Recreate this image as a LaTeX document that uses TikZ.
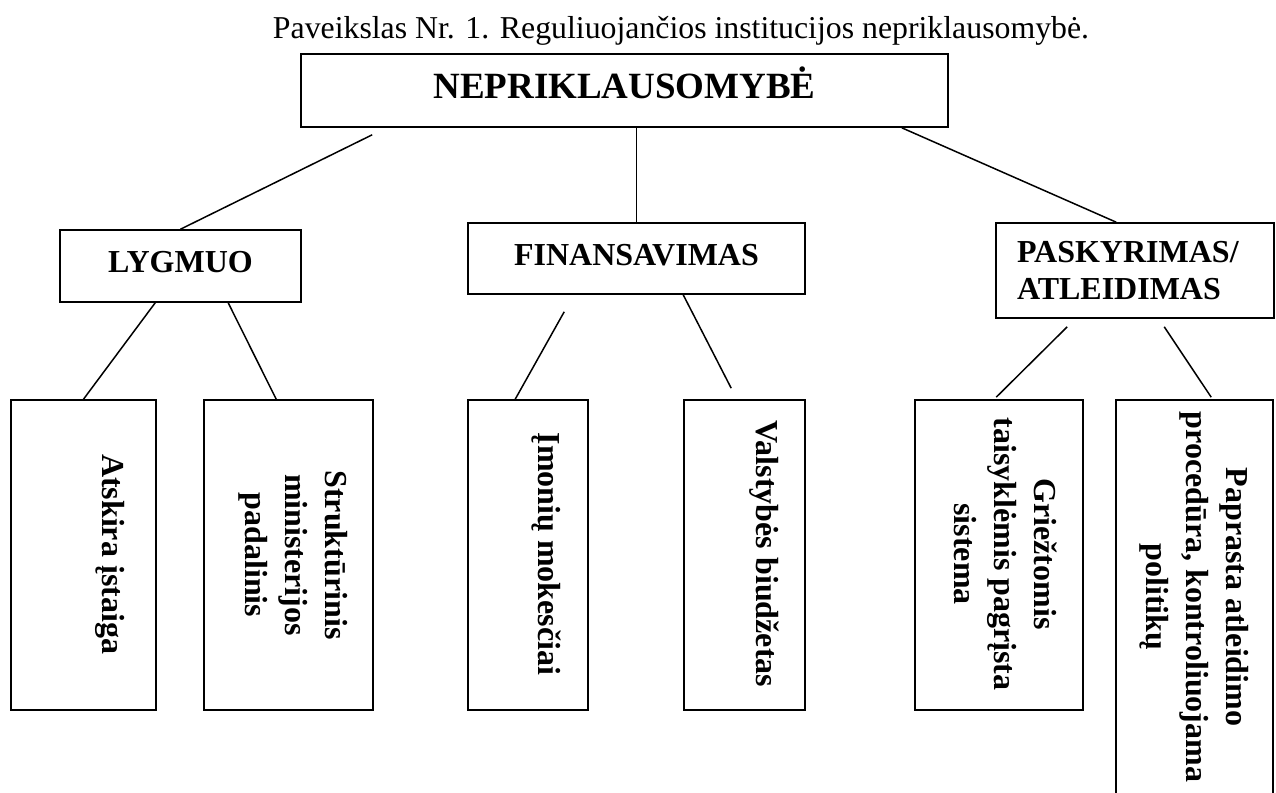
\documentclass[tikz,border=0pt]{standalone}
\usepackage{fontspec}
\setmainfont{Liberation Serif}
\usepackage{tikz}
\usetikzlibrary{calc}
\tikzset{
  bx/.style={draw, line width=1.6pt, inner sep=0pt, font=\fontsize{32}{37}\selectfont\bfseries},
  one/.style={text height=21pt, text depth=8pt},
  leaf/.style={draw, line width=1.6pt, inner sep=0pt, minimum height=310pt},
  vtxt/.style={rotate=-90, align=center, inner sep=0pt, font=\fontsize{32}{40}\selectfont\bfseries},
  lnk/.style={line width=1.5pt},
}

\begin{document}
\begin{tikzpicture}[x=1pt, y=-1pt]
  \useasboundingbox (0,0) rectangle (1276,792);
  \clip (0,0) rectangle (1276,792);
  \node[anchor=base, font=\fontsize{31.8}{36}\selectfont] (ttl) at (681,38) {Paveikslas Nr. 1. Reguliuojančios institucijos nepriklausomybė.};
  % virsus
  \node[bx, minimum width=647pt, minimum height=73pt, text height=24pt, text depth=9pt, font=\fontsize{37}{44}\selectfont\bfseries] (nep) at (624.5,90.5) {NEPRIKLAUSOMYBĖ};
  % antras lygis
  \node[bx, one, minimum width=241pt, minimum height=72pt] (lyg) at (180.5,266) {LYGMUO};
  \node[bx, one, minimum width=337pt, minimum height=71pt] (fin) at (636.5,258.5) {FINANSAVIMAS};
  \node[bx, minimum width=278pt, minimum height=95pt, inner xsep=21pt, text width=236pt, align=left] (pask) at (1135,270.5) {PASKYRIMAS/\\ATLEIDIMAS};
  % apacia
  \node[leaf, minimum width=145pt] (b1) at (83.5,555) {};
  \node[leaf, minimum width=169pt] (b2) at (288.5,555) {};
  \node[leaf, minimum width=120pt] (b3) at (528,555) {};
  \node[leaf, minimum width=121pt] (b4) at (744.5,555) {};
  \node[leaf, minimum width=168pt] (b5) at (999,555) {};
  \node[leaf, minimum width=157pt, minimum height=395pt] (b6) at (1194.5,597.5) {};
  \node[vtxt] (t1) at (110,554) {Atskira įstaiga};
  \node[vtxt] (t2) at (293,555) {Struktūrinis\\ministerijos\\padalinis};
  \node[vtxt] (t3) at (546,554) {Įmonių mokesčiai};
  \node[vtxt] (t4) at (764,554) {Valstybės biudžetas};
  \node[vtxt] (t5) at (1006,554) {Griežtomis\\taisyklėmis pagrįsta\\sistema};
  \node[vtxt] (t6) at (1194,597) {Paprasta atleidimo\\procedūra, kontroliuojama\\politikų};
  % linijos
  \draw[lnk] ($(nep.south west)+(72,7)$) -- (lyg.north);
  \draw[lnk] (fin.north |- nep.south) -- (fin.north);
  \draw[lnk] ($(nep.south east)+(-47,0)$) -- ($(pask.north west)+(121,0)$);
  \draw[lnk] ($(lyg.south west)+(96,0)$) -- (b1.north);
  \draw[lnk] ($(lyg.south west)+(169,0)$) -- ($(b2.north west)+(73,0)$);
  \draw[lnk] ($(fin.south west)+(97,17)$) -- ($(b3.north west)+(48,0)$);
  \draw[lnk] ($(fin.south west)+(216,0)$) -- ($(b4.north west)+(48,-11)$);
  \draw[lnk] ($(pask.south west)+(72,8)$) -- ($(b5.north west)+(82,-2)$);
  \draw[lnk] ($(pask.south west)+(169,8)$) -- ($(b6.north west)+(96,-2)$);
\end{tikzpicture}
\end{document}
